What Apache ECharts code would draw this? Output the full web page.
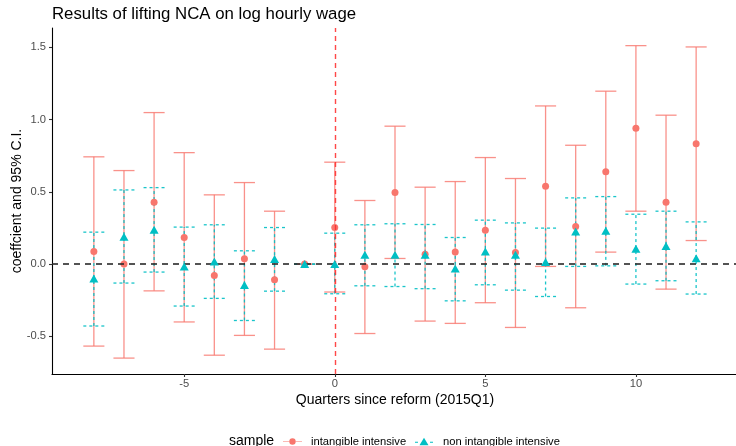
<!DOCTYPE html>
<html>
<head>
<meta charset="utf-8">
<script src="https://cdn.jsdelivr.net/npm/echarts@6/dist/echarts.min.js"></script>
<style>
html,body{margin:0;padding:0;background:#fff;}
#chart{width:736px;height:446px;}
</style>
</head>
<body>
<div id="chart"></div>
<script>
// ---- data ----
const quarters = [-8,-7,-6,-5,-4,-3,-2,-1,0,1,2,3,4,5,6,7,8,9,10,11,12];

const intEst  = [0.087, 0.000, 0.428, 0.184, -0.079, 0.037, -0.108, 0, 0.254, -0.019, 0.495, 0.069, 0.083, 0.235, 0.080, 0.539, 0.260, 0.638, 0.940, 0.428, 0.833];
const intLow  = [-0.567, -0.650, -0.185, -0.400, -0.630, -0.493, -0.588, 0, -0.193, -0.480, 0.039, -0.394, -0.410, -0.267, -0.438, -0.016, -0.302, 0.083, 0.366, -0.173, 0.163];
const intHigh = [0.742, 0.647, 1.048, 0.771, 0.479, 0.564, 0.366, 0, 0.705, 0.440, 0.954, 0.532, 0.571, 0.737, 0.592, 1.094, 0.822, 1.196, 1.511, 1.030, 1.502];

const nonEst  = [-0.100, 0.190, 0.237, -0.016, 0.018, -0.145, 0.035, 0, 0.000, 0.064, 0.064, 0.064, -0.030, 0.087, 0.064, 0.014, 0.225, 0.230, 0.106, 0.126, 0.041];
const nonLow  = [-0.428, -0.131, -0.055, -0.290, -0.237, -0.390, -0.187, 0, -0.205, -0.150, -0.155, -0.170, -0.254, -0.143, -0.180, -0.224, -0.016, -0.012, -0.138, -0.115, -0.207];
const nonHigh = [0.221, 0.513, 0.529, 0.256, 0.272, 0.092, 0.253, 0, 0.214, 0.272, 0.279, 0.274, 0.184, 0.304, 0.285, 0.249, 0.458, 0.467, 0.345, 0.366, 0.292];

const xTicks = [-5, 0, 5, 10];
const yTicks = [-0.5, 0.0, 0.5, 1.0, 1.5];

const seriesNames = ['intangible intensive', 'non intangible intensive'];
const titleText = 'Results of lifting NCA on log hourly wage';
const xTitle = 'Quarters since reform (2015Q1)';
const yTitle = 'coeffcient and 95% C.I.';
const legendTitle = 'sample';

// ---- styling ----
const RED = '#F8766D', CYAN = '#00BFC4';
const FONT = '"Liberation Sans", Arial, Helvetica, sans-serif';
const CAP = 0.7;

function errData(est, lo, hi) { return quarters.map((q, i) => [q, lo[i], hi[i]]); }
function ptData(est) { return quarters.map((q, i) => [q, est[i]]); }

function errRender(color, dash) {
  return function (params, api) {
    const x = api.value(0), lo = api.value(1), hi = api.value(2);
    const a = api.coord([x, lo]), b = api.coord([x, hi]);
    const hw = api.size([CAP, 0])[0] / 2;
    const st = { stroke: color, lineWidth: 1.3, lineDash: dash, fill: null };
    return {
      type: 'group',
      children: [
        { type: 'line', shape: { x1: a[0], y1: a[1], x2: b[0], y2: b[1] }, style: st },
        { type: 'line', shape: { x1: a[0] - hw, y1: a[1], x2: a[0] + hw, y2: a[1] }, style: st },
        { type: 'line', shape: { x1: b[0] - hw, y1: b[1], x2: b[0] + hw, y2: b[1] }, style: st }
      ]
    };
  };
}

const redIcon = 'path://M0,3.2 L6.2,3.2 L6.2,3.8 L0,3.8 Z M12.8,3.2 L19,3.2 L19,3.8 L12.8,3.8 Z M6.3,3.5 A3.2,3.2 0 1 0 12.7,3.5 A3.2,3.2 0 1 0 6.3,3.5 Z';
const cyanIcon = 'path://M0,4.6 L3,4.6 L3,5.4 L0,5.4 Z M4.5,8 L9,0.5 L13.5,8 Z M15,4.6 L18,4.6 L18,5.4 L15,5.4 Z';

const chart = echarts.init(document.getElementById('chart'), null, { renderer: 'canvas' });

const option = {
  backgroundColor: '#ffffff',
  animation: false,
  textStyle: { fontFamily: FONT },
  title: {
    text: titleText, left: 47, top: 1,
    textStyle: { fontFamily: FONT, fontSize: 16.8, fontWeight: 'normal', color: '#000' }
  },
  grid: { left: 52, top: 28, width: 686, height: 346, containLabel: false, outerBoundsMode: 'none' },
  xAxis: {
    type: 'value', min: -9.39, max: 13.39,
    name: xTitle, nameLocation: 'middle', nameGap: 19, nameMoveOverlap: false,
    nameTextStyle: { fontFamily: FONT, fontSize: 14, color: '#000' },
    axisLine: { show: true, onZero: false, lineStyle: { color: '#000', width: 1.1 } },
    axisTick: { show: true, length: 3, customValues: xTicks, lineStyle: { color: '#333', width: 1.1 } },
    axisLabel: { customValues: xTicks, margin: 4, fontSize: 11.2, color: '#4D4D4D', fontFamily: FONT },
    splitLine: { show: false }
  },
  yAxis: {
    type: 'value', min: -0.76, max: 1.633,
    name: yTitle, nameLocation: 'middle', nameRotate: 90, nameGap: 28, nameMoveOverlap: false,
    nameTextStyle: { fontFamily: FONT, fontSize: 14, color: '#000' },
    axisLine: { show: true, onZero: false, lineStyle: { color: '#000', width: 1.1 } },
    axisTick: { show: true, length: 3, customValues: yTicks, lineStyle: { color: '#333', width: 1.1 } },
    axisLabel: { customValues: yTicks, margin: 6, fontSize: 11.2, color: '#4D4D4D', fontFamily: FONT,
      formatter: v => v.toFixed(1) },
    splitLine: { show: false }
  },
  legend: [
    { data: [{ name: seriesNames[0], icon: redIcon }], left: 283, top: 436, padding: 0,
      itemWidth: 19, itemHeight: 7,
      textStyle: { fontFamily: FONT, fontSize: 11.2, color: '#000', padding: [0, 0, 0, 4] } },
    { data: [{ name: seriesNames[1], icon: cyanIcon }], left: 415, top: 436, padding: 0,
      itemWidth: 18, itemHeight: 8,
      textStyle: { fontFamily: FONT, fontSize: 11.2, color: '#000', padding: [0, 0, 0, 5] } }
  ],
  graphic: [
    { type: 'text', left: 229, top: 434,
      style: { text: legendTitle, font: '14px ' + FONT, fill: '#000' } }
  ],
  series: [
    {
      type: 'custom', name: seriesNames[0] + ' ci', renderItem: errRender('rgba(248,118,109,0.8)', null),
      data: errData(intEst, intLow, intHigh), encode: { x: 0, y: [1, 2] }, z: 2,
      markLine: {
        silent: true, symbol: 'none', label: { show: false },
        data: [
          { xAxis: 0, lineStyle: { color: 'rgba(255,40,40,0.85)', type: [5, 4], width: 1.4 } }
        ]
      }
    },
    {
      type: 'custom', name: seriesNames[1] + ' ci', renderItem: errRender('rgba(0,191,196,0.9)', [3, 3]),
      data: errData(nonEst, nonLow, nonHigh), encode: { x: 0, y: [1, 2] }, z: 3
    },
    {
      type: 'scatter', name: seriesNames[0], data: ptData(intEst), symbol: 'circle', symbolSize: 7,
      itemStyle: { color: RED, opacity: 1 }, z: 4
    },
    {
      type: 'scatter', name: seriesNames[1], data: ptData(nonEst), symbol: 'triangle', symbolSize: [9, 8],
      itemStyle: { color: CYAN, opacity: 1 }, z: 5,
      markLine: {
        silent: true, symbol: 'none', label: { show: false },
        data: [
          { yAxis: 0, lineStyle: { color: 'rgba(40,40,40,0.8)', type: [6, 5], width: 1.8 } }
        ]
      }
    }
  ]
};
chart.setOption(option);
</script>
</body>
</html>
